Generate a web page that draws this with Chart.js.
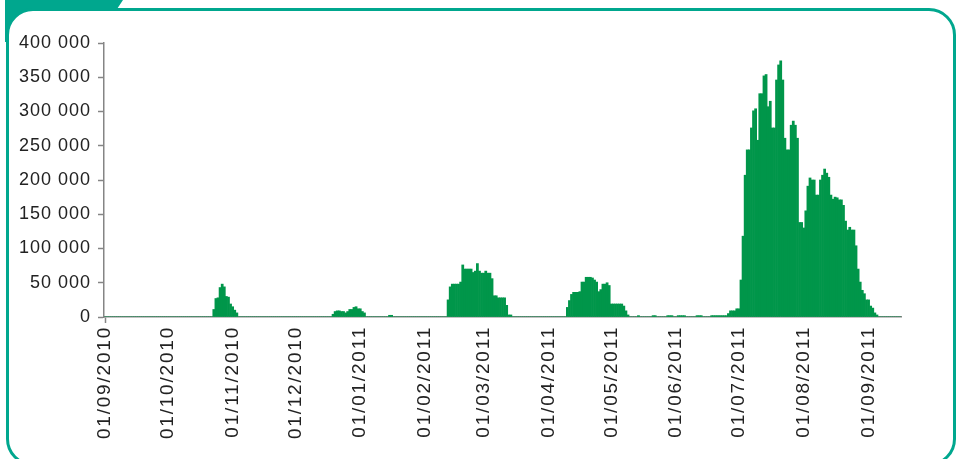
<!DOCTYPE html>
<html>
<head>
<meta charset="utf-8">
<script src="https://cdn.jsdelivr.net/npm/chart.js@4.4.1/dist/chart.umd.min.js"></script>
<style>
  html, body { margin: 0; padding: 0; background: #fff; overflow: hidden; }
  #tab {
    position: absolute; left: 5px; top: 0; width: 118px; height: 42px;
    background: #00a78e; z-index: 0;
    clip-path: polygon(0 0, 118px 0, 110px 12px, 40px 12px, 40px 42px, 0 42px);
  }
  #frame {
    position: absolute; left: 6px; top: 8px; width: 950px; height: 458px;
    box-sizing: border-box; border: 3px solid #00a78e; border-radius: 27px;
    background: #fff; z-index: 1;
  }
  #chart { position: absolute; left: 0; top: 0; z-index: 2; }
</style>
</head>
<body>
<div id="tab"></div>
<div id="frame"></div>
<canvas id="chart" width="957" height="459"></canvas>
<script>
// daily values, one array per month (01/09/2010 -> 16/09/2011)
var sep2010 = [0,0,0,0,0,0,0,0,0,0, 0,0,0,0,0,0,0,0,0,0, 0,0,0,0,0,0,0,0,0,0];
var oct2010 = [0,0,0,0,0,0,0,0,0,0, 0,0,0,0,0,0,0,0,0,0, 0,0,
  11000,27000,28000,43000,48000,44000,30000,29000,19000];
var nov2010 = [15000,10000,6000,0,0,0,0,0,0,0, 0,0,0,0,0,0,0,0,0,0, 0,0,0,0,0,0,0,0,0,0];
var dec2010 = [0,0,0,0,0,0,0,0,0,0, 0,0,0,0,0,0,0,0,
  4000,8000,9000,9000,8000,8000,6000,8000,11000,11000,14000,15000,12000];
var jan2011 = [12000,8000,6000,0,0,0,0,0,0,0, 0,0,0,0,2500,2500,0,0,0,0, 0,0,0,0,0,0,0,0,0,0, 0];
var feb2011 = [0,0,0,0,0,0,0,0,0,0, 0,
  25000,44000,48000,48000,48000,48000,51000,76000,70000,70000,70000,70000,65000,67000,78000,67000,64000];
var mar2011 = [64000,67000,64000,64000,56000,31000,31000,28000,28000,28000,28000,17000,3000,3000,
  0,0,0,0,0,0,0,0,0,0, 0,0,0,0,0,0,0];
var apr2011 = [0,0,0,0,0,0,0,0,0,
  14000,24000,33000,36000,36000,36000,37000,51000,51000,58000,58000,58000,57000,54000,51000,37000,40000,48000,48000,50000,46000];
var may2011 = [19000,19000,19000,19000,19000,19000,16000,9000,3000,0, 0,0,0,2000,0,0,0,0,0,0,
  2000,2000,0,0,0,0,0,2000,2000,2000, 0];
var jun2011 = [0,2000,2000,2000,2000,0,0,0,0,0, 2000,2000,2000,0,0,0,0,2000,2000,2000,
  2000,2000,2000,2000,2000,5000,9000,9000,9000,12000];
var jul2011 = [12000,54000,118000,207000,244000,244000,276000,301000,304000,258000,
  326000,326000,352000,354000,307000,315000,276000,276000,346000,368000,
  374000,346000,261000,244000,244000,280000,286000,280000,261000,138000, 138000];
var aug2011 = [130000,155000,191000,203000,200000,200000,178000,178000,200000,207000,
  216000,210000,204000,178000,172000,175000,174000,171000,171000,163000,
  140000,127000,131000,127000,127000,104000,70000,51000,39000,34000, 25000];
var sep2011 = [25000,16000,13000,6000,3000,0,0,0,0,0, 0,0,0,0,0,0];

var monthTicks = ['01/09/2010','01/10/2010','01/11/2010','01/12/2010','01/01/2011','01/02/2011',
  '01/03/2011','01/04/2011','01/05/2011','01/06/2011','01/07/2011','01/08/2011','01/09/2011'];

var yMax = 400000;
var yStep = 50000;

var barColor = '#00964a';
var axisColor = '#858585';
var textColor = '#222222';

var dailyValues = [].concat(sep2010, oct2010, nov2010, dec2010, jan2011, feb2011, mar2011,
  apr2011, may2011, jun2011, jul2011, aug2011, sep2011);

function formatDate(date){
  var dd = date.getDate();
  var mm = date.getMonth()+1;
  if(dd<10) {dd='0'+dd}
  if(mm<10) {mm='0'+mm}
  return dd+'/'+mm+'/'+date.getFullYear();
}

var dayLabels = [];
for (var i=0; i<dailyValues.length; i++) {
  var d = new Date(2010, 8, 1 + i);
  dayLabels.push(formatDate(d));
}

function isMonthTick(index){
  return monthTicks.indexOf(dayLabels[index]) !== -1;
}

function spaceThousands(v){
  return v.toString().replace(/\B(?=(\d{3})+(?!\d))/g, ' ');
}

// the reference text is set wider than Arial : y labels are drawn before the bars,
// x labels after them (ticks.z = 1), so each gets its own letter spacing
var letterSpacing = {
  id: 'letterSpacing',
  beforeDraw: function(chart){ chart.ctx.letterSpacing = '1px'; },
  beforeDatasetsDraw: function(chart){ chart.ctx.letterSpacing = '1.8px'; },
  afterDraw: function(chart){ chart.ctx.letterSpacing = '0px'; }
};

var ctx = document.getElementById('chart').getContext('2d');
var chart = new Chart(ctx, {
  type: 'bar',
  data: {
    labels: dayLabels,
    datasets: [{
      data: dailyValues,
      backgroundColor: barColor,
      borderWidth: 0,
      barPercentage: 1,
      categoryPercentage: 1
    }]
  },
  options: {
    responsive: false,
    animation: false,
    layout: { padding: { top: 43, right: 56, left: 0, bottom: 0 } },
    plugins: {
      legend: { display: false },
      tooltip: { enabled: false }
    },
    scales: {
      x: {
        grid: {
          drawOnChartArea: false,
          offset: false,
          tickLength: 6,
          tickWidth: 1.5,
          tickColor: function(c){ return isMonthTick(c.index) ? axisColor : 'rgba(0,0,0,0)'; }
        },
        border: { color: axisColor, width: 1.5 },
        ticks: {
          z: 1,
          autoSkip: false,
          maxRotation: 90,
          minRotation: 90,
          padding: 3,
          color: textColor,
          font: { family: 'Liberation Sans', size: 19 },
          callback: function(v, i){ return isMonthTick(i) ? dayLabels[i] : null; }
        },
        afterFit: function(s){ s.height = 142; }
      },
      y: {
        min: 0,
        max: yMax,
        grid: { drawOnChartArea: false, tickLength: 6, tickWidth: 1.5, tickColor: axisColor },
        border: { color: axisColor, width: 1.5 },
        ticks: {
          stepSize: yStep,
          padding: 7,
          color: textColor,
          font: { family: 'Liberation Sans', size: 18 },
          callback: function(v){ return spaceThousands(v); }
        },
        afterFit: function(s){ s.width = 104; }
      }
    }
  },
  plugins: [letterSpacing]
});
</script>
</body>
</html>
